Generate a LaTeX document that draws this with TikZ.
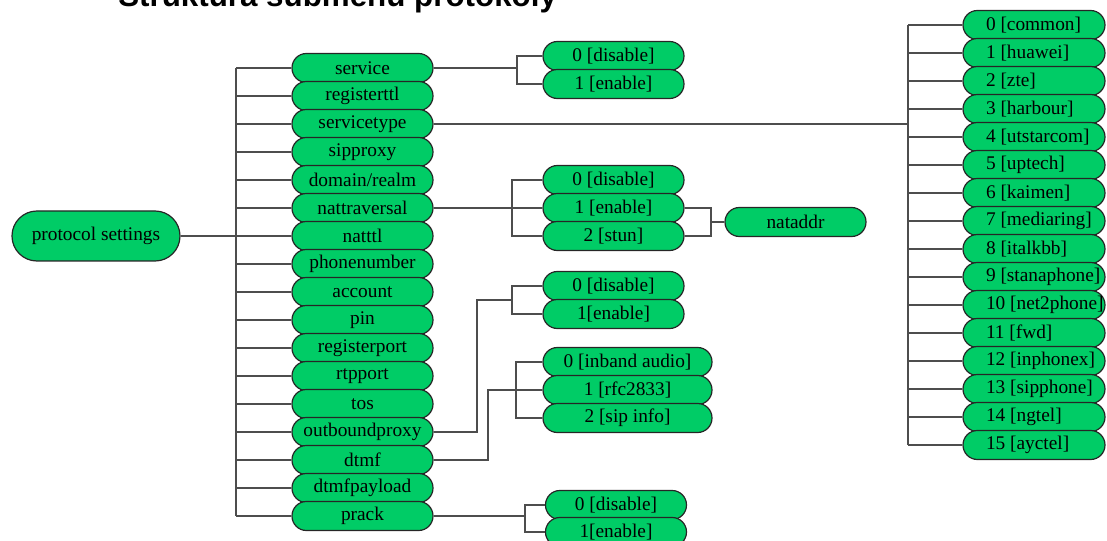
\documentclass[tikz,border=0pt]{standalone}
\usepackage{fontspec}
\setmainfont{Liberation Serif}
\newfontfamily\titlefont{Liberation Sans}
\usetikzlibrary{calc}
\definecolor{leaf}{HTML}{00CC66}
\definecolor{ink}{HTML}{262626}
\definecolor{wire}{HTML}{4D4D4D}

\begin{document}
\begin{tikzpicture}[x=0.75pt,y=-0.75pt,
   item/.style={draw=ink,fill=leaf,line width=0.9pt,rounded corners=10.8pt,font=\fontsize{14.5}{16}\selectfont,minimum width=#1,minimum height=21.75pt,inner sep=0pt},
   item/.default=105.75pt,
   link/.style={wire,line width=1.1pt}]
  \useasboundingbox (0,0) rectangle (1107,541);
  \node[anchor=base west,inner sep=0pt,font=\titlefont\bfseries\fontsize{23.5}{26}\selectfont] (title) at (118,7) {Struktura submenu protokoly};
  \node[item=126pt,minimum height=37.5pt,rounded corners=18.7pt] (ps) at (96,236) {protocol settings};
  \coordinate (tr) at (236,0);
  \foreach \nm/\txt [count=\i from 0] in
     {service/service,regttl/registerttl,stype/servicetype,sipproxy/sipproxy,
      domain/{domain/realm},natt/nattraversal,natttl/natttl,phone/phonenumber,
      account/account,pin/pin,regport/registerport,rtpport/rtpport,tos/tos,
      obproxy/outboundproxy,dtmf/dtmf,dtmfpl/dtmfpayload,prack/prack}{
     \node[item] (\nm) at (362.5,68+28*\i) {\txt};
     \draw[link] (\nm.west -| tr) -- (\nm.west);}
  \draw[link] (ps.east) -- (ps.east -| tr);
  \draw[link] (service.west -| tr) -- (prack.west -| tr);
  % servicetype
  \coordinate (vk) at (908,0);
  \foreach \txt [count=\i from 0] in
     {common,huawei,zte,harbour,utstarcom,uptech,kaimen,mediaring,italkbb,
      stanaphone,net2phone,fwd,inphonex,sipphone,ngtel,ayctel}{
     \node[item=106.5pt,inner xsep=17.25pt] (v\i) at (1034,25+28*\i) {\makebox[72pt][l]{\i\ [\txt]}};
     \draw[link] (v\i.west -| vk) -- (v\i.west);}
  \draw[link] (v0.west -| vk) -- (v15.west -| vk);
  \draw[link] (stype.east) -- (stype.east -| vk);
  % service
  \coordinate (sk) at (517,0);
  \node[item] (sv0) at (613.5,56) {0 [disable]};
  \node[item] (sv1) at (613.5,84) {1 [enable]};
  \draw[link] (service.east) -- (service.east -| sk);
  \draw[link] (sv0.west) -| (sk |- sv1.west) -- (sv1.west);
  % nattraversal
  \coordinate (nk) at (512,0);
  \coordinate (ak) at (711,0);
  \node[item] (n0) at (613.5,180) {0 [disable]};
  \node[item] (n1) at (613.5,208) {1 [enable]};
  \node[item] (n2) at (613.5,236) {2 [stun]};
  \node[item] (nataddr) at (795.5,222) {nataddr};
  \draw[link] (natt.east) -- (n1.west);
  \draw[link] (n0.west) -| (nk |- n2.west) -- (n2.west);
  \draw[link] (n1.east) -| (ak |- n2.east) -- (n2.east);
  \draw[link] (nataddr.west) -- (nataddr.west -| ak);
  % outboundproxy
  \coordinate (ok) at (477,300);
  \node[item] (ob0) at (613.5,286) {0 [disable]};
  \node[item] (ob1) at (613.5,314) {1[enable]};
  \draw[link] (obproxy.east) -| (ok) -- (ok -| nk);
  \draw[link] (ob0.west) -| (nk |- ob1.west) -- (ob1.west);
  % dtmf
  \coordinate (dk) at (516,0);
  \coordinate (dm) at (488,0);
  \node[item=126.75pt] (dt0) at (627.5,362) {0 [inband audio]};
  \node[item=126.75pt] (dt1) at (627.5,390) {1 [rfc2833]};
  \node[item=126.75pt] (dt2) at (627.5,418) {2 [sip info]};
  \draw[link] (dt0.west) -| (dk |- dt2.west) -- (dt2.west);
  \draw[link] (dtmf.east) -| (dm |- dt1.west) -- (dt1.west);
  % prack
  \coordinate (pk) at (525,0);
  \node[item] (pr0) at (616,505) {0 [disable]};
  \node[item] (pr1) at (616,532) {1[enable]};
  \draw[link] (prack.east) -- (prack.east -| pk);
  \draw[link] (pr0.west) -| (pk |- pr1.west) -- (pr1.west);
\end{tikzpicture}
\end{document}
